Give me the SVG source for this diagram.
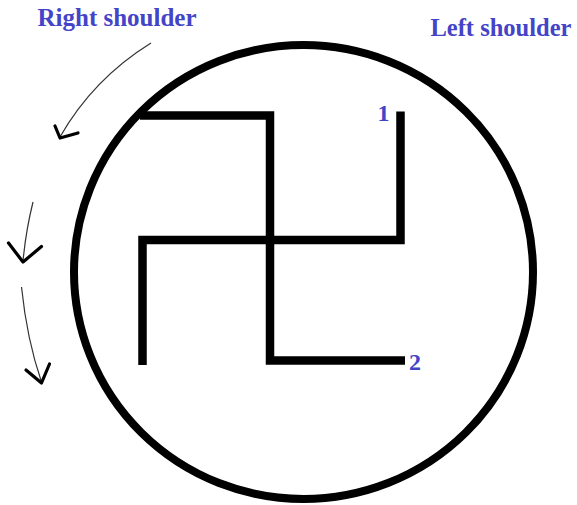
<svg xmlns="http://www.w3.org/2000/svg" width="577" height="505" viewBox="0 0 577 505">
<style>
.lbl{font-family:"Liberation Serif","Times New Roman",serif;font-weight:bold;fill:#4444c8}
.thick{fill:none;stroke:#000;stroke-width:8.5;stroke-linejoin:miter;stroke-linecap:butt}
.shaft{fill:none;stroke:#333;stroke-width:1.2}
.head{fill:none;stroke:#000;stroke-width:3.2;stroke-linecap:round;stroke-linejoin:round}
</style>
<rect width="577" height="505" fill="#fff"/>
<g id="circle">
<ellipse cx="303.5" cy="272" rx="229.5" ry="227" fill="none" stroke="#000" stroke-width="8"/>
</g>
<g id="figure">
<path class="thick" d="M140,115.5 H270 V360.5 H405"/>
<path class="thick" d="M400.5,111.5 V240 H142.5 V365"/>
</g>
<g id="label-1"><text class="lbl" x="377.5" y="120.5" font-size="24">1</text></g>
<g id="label-2"><text class="lbl" x="409" y="370" font-size="24">2</text></g>
<g id="label-right"><text class="lbl" x="37.5" y="26" font-size="25">Right shoulder</text></g>
<g id="label-left"><text class="lbl" x="430.5" y="35.5" font-size="24.5">Left shoulder</text></g>
<g id="connectors">
<path class="shaft" d="M151,43 Q93,79 60,137"/>
<path class="head" d="M55,126 L60,138 L78,133"/>
<path class="shaft" d="M33,202 Q26,230 23,261"/>
<path class="head" d="M8.5,243 L23,262 L41.5,246.5"/>
<path class="shaft" d="M21.5,287 Q27,340 41.5,382"/>
<path class="head" d="M26,370 L41.5,383 L49.5,364"/>
</g>
</svg>
